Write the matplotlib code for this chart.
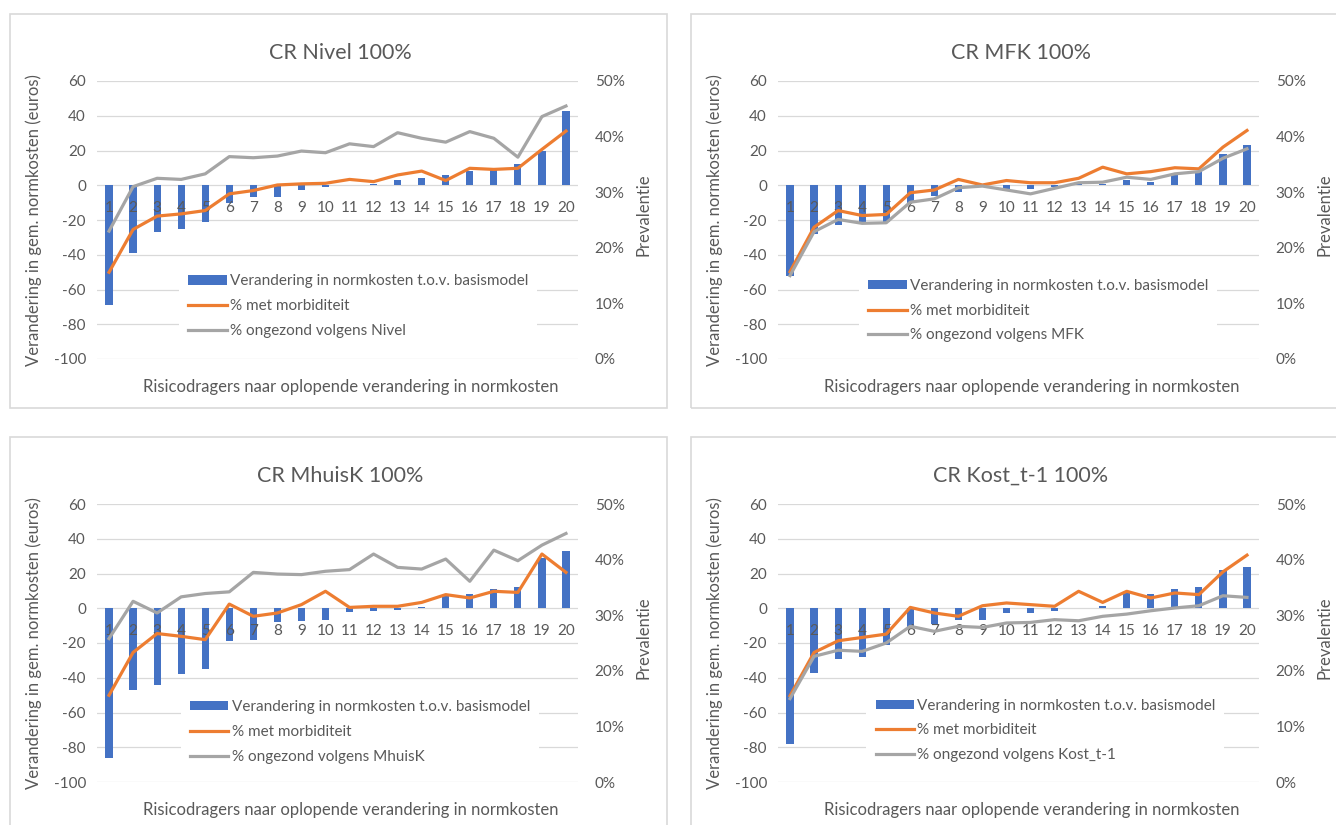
import matplotlib.pyplot as plt
from matplotlib.patches import Rectangle
from matplotlib.ticker import PercentFormatter

plt.rcParams['font.family'] = ['Lato', 'DejaVu Sans']
plt.rcParams['axes.unicode_minus'] = False

categories = ['1', '2', '3', '4', '5', '6', '7', '8', '9', '10',
              '11', '12', '13', '14', '15', '16', '17', '18', '19', '20']

titles = ['CR Nivel 100%', 'CR MFK 100%', 'CR MhuisK 100%', 'CR Kost_t-1 100%']
gray_labels = ['% ongezond volgens Nivel', '% ongezond volgens MFK',
               '% ongezond volgens MhuisK', '% ongezond volgens Kost_t-1']

# verandering in normkosten (euros)
kosten_nivel = [-69, -39, -27, -25, -21, -10, -7, -7, -3, -1,
                0.3, 1, 3, 4, 6, 8, 9, 12, 20, 43]
kosten_mfk = [-52, -28, -23, -21, -21, -10, -6, -4, -1, -2,
              -2, -1, 0.5, 1, 3, 2, 6, 8, 18, 23]
kosten_mhuisk = [-86, -47, -44, -38, -35, -19, -18, -8, -7.5, -7,
                 -2, -1.3, -0.8, 0.8, 7, 8, 11, 12, 29, 33]
kosten_kost = [-78, -37, -29, -28, -21, -11, -9, -7, -6.5, -3,
               -3, -1.3, 0, 1.5, 9, 8, 11, 12, 22, 24]

# % met morbiditeit
morb_nivel = [0.156, 0.233, 0.257, 0.261, 0.267, 0.297, 0.303, 0.313, 0.315, 0.316,
              0.323, 0.319, 0.331, 0.338, 0.321, 0.343, 0.341, 0.343, 0.377, 0.410]
morb_mfk = [0.157, 0.237, 0.267, 0.258, 0.260, 0.299, 0.304, 0.323, 0.313, 0.321,
            0.317, 0.317, 0.325, 0.345, 0.333, 0.337, 0.344, 0.342, 0.381, 0.411]
morb_mhuisk = [0.156, 0.233, 0.267, 0.262, 0.256, 0.320, 0.298, 0.304, 0.319, 0.343,
               0.314, 0.316, 0.316, 0.323, 0.337, 0.331, 0.343, 0.341, 0.410, 0.377]
morb_kost = [0.155, 0.233, 0.254, 0.260, 0.266, 0.314, 0.304, 0.298, 0.317, 0.322,
             0.319, 0.316, 0.343, 0.323, 0.343, 0.331, 0.340, 0.337, 0.378, 0.408]

# % ongezond volgens ...
ong_nivel = [0.230, 0.310, 0.325, 0.323, 0.333, 0.364, 0.362, 0.365, 0.374, 0.371,
             0.387, 0.382, 0.407, 0.397, 0.390, 0.409, 0.397, 0.363, 0.436, 0.455]
ong_mfk = [0.150, 0.229, 0.251, 0.244, 0.245, 0.282, 0.288, 0.308, 0.311, 0.304,
           0.297, 0.307, 0.317, 0.318, 0.327, 0.323, 0.333, 0.337, 0.361, 0.378]
ong_mhuisk = [0.258, 0.325, 0.304, 0.333, 0.339, 0.342, 0.377, 0.374, 0.373, 0.379,
              0.382, 0.410, 0.386, 0.383, 0.401, 0.361, 0.417, 0.398, 0.426, 0.447]
ong_kost = [0.150, 0.226, 0.237, 0.235, 0.250, 0.280, 0.271, 0.280, 0.278, 0.286,
            0.287, 0.292, 0.290, 0.298, 0.302, 0.308, 0.313, 0.317, 0.335, 0.332]

kosten = [kosten_nivel, kosten_mfk, kosten_mhuisk, kosten_kost]
morb = [morb_nivel, morb_mfk, morb_mhuisk, morb_kost]
ongezond = [ong_nivel, ong_mfk, ong_mhuisk, ong_kost]

W, H = 1336, 825
boxes = [(10, 14), (691, 14), (10, 437), (691, 437)]
legend_pos = [(0.543, 0.19), (0.541, 0.174), (0.547, 0.18), (0.556, 0.186)]
txt = '#595959'
grid_c = '#D9D9D9'

fig = plt.figure(figsize=(W / 100, H / 100), dpi=100)

for i in range(4):
    bx, by = boxes[i]
    fig.add_artist(Rectangle((bx / W, 1 - (by + 394) / H), 657 / W, 394 / H,
                             transform=fig.transFigure, fill=False,
                             edgecolor=grid_c, lw=1.2))
    left, top = bx + 87, by + 67
    ax = fig.add_axes([left / W, 1 - (top + 278) / H, 481 / W, 278 / H])
    ax2 = ax.twinx()

    x = list(range(len(categories)))
    bars = ax.bar(x, kosten[i], width=0.3, color='#4472C4',
                  label='Verandering in normkosten t.o.v. basismodel')
    for yv in range(-100, 61, 20):
        ax.axhline(yv, color=grid_c, lw=0.9, zorder=0)
    l1, = ax2.plot(x, morb[i], color='#ED7D31', lw=2.3, label='% met morbiditeit')
    l2, = ax2.plot(x, ongezond[i], color='#A5A5A5', lw=2.3, label=gray_labels[i])

    ax.set_xlim(-0.5, 19.5)
    ax.set_ylim(-100, 60)
    ax.set_yticks(range(-100, 61, 20))
    ax2.set_ylim(0, 0.5)
    ax2.set_yticks([0, 0.1, 0.2, 0.3, 0.4, 0.5])
    ax2.yaxis.set_major_formatter(PercentFormatter(1.0, decimals=0))

    ax.set_xticks(x)
    ax.set_xticklabels(categories)
    ax.spines['bottom'].set_position(('data', 0))
    for a in (ax, ax2):
        for s in a.spines.values():
            s.set_visible(False)
    ax.tick_params(axis='x', length=0, pad=11, labelsize=11, labelcolor=txt)
    ax.tick_params(axis='y', length=0, pad=8, labelsize=11, labelcolor=txt)
    ax2.tick_params(axis='y', length=0, pad=12, labelsize=11, labelcolor=txt)

    ax.text(0.505, 1.1025, titles[i], transform=ax.transAxes, ha='center',
            va='center', fontsize=15.5, color=txt)
    ax.text(0.527, -0.1025, 'Risicodragers naar oplopende verandering in normkosten',
            transform=ax.transAxes, ha='center', va='center', fontsize=12, color=txt)
    ax.text(-0.132, 0.5, 'Verandering in gem. normkosten (euros)', rotation=90,
            transform=ax.transAxes, ha='center', va='center', fontsize=12, color=txt)
    ax.text(1.137, 0.518, 'Prevalentie', rotation=90, transform=ax.transAxes,
            ha='center', va='center', fontsize=12, color=txt)

    leg = ax2.legend([bars, l1, l2], [bars.get_label(), l1.get_label(), l2.get_label()],
                     loc='center', bbox_to_anchor=legend_pos[i], fontsize=11,
                     labelcolor=txt, frameon=True, facecolor='white', edgecolor='none',
                     framealpha=1, fancybox=False, handlelength=2.5, handleheight=0.55,
                     handletextpad=0.2, labelspacing=0.7, borderpad=0.6)

fig.savefig('out.png', dpi=100)
